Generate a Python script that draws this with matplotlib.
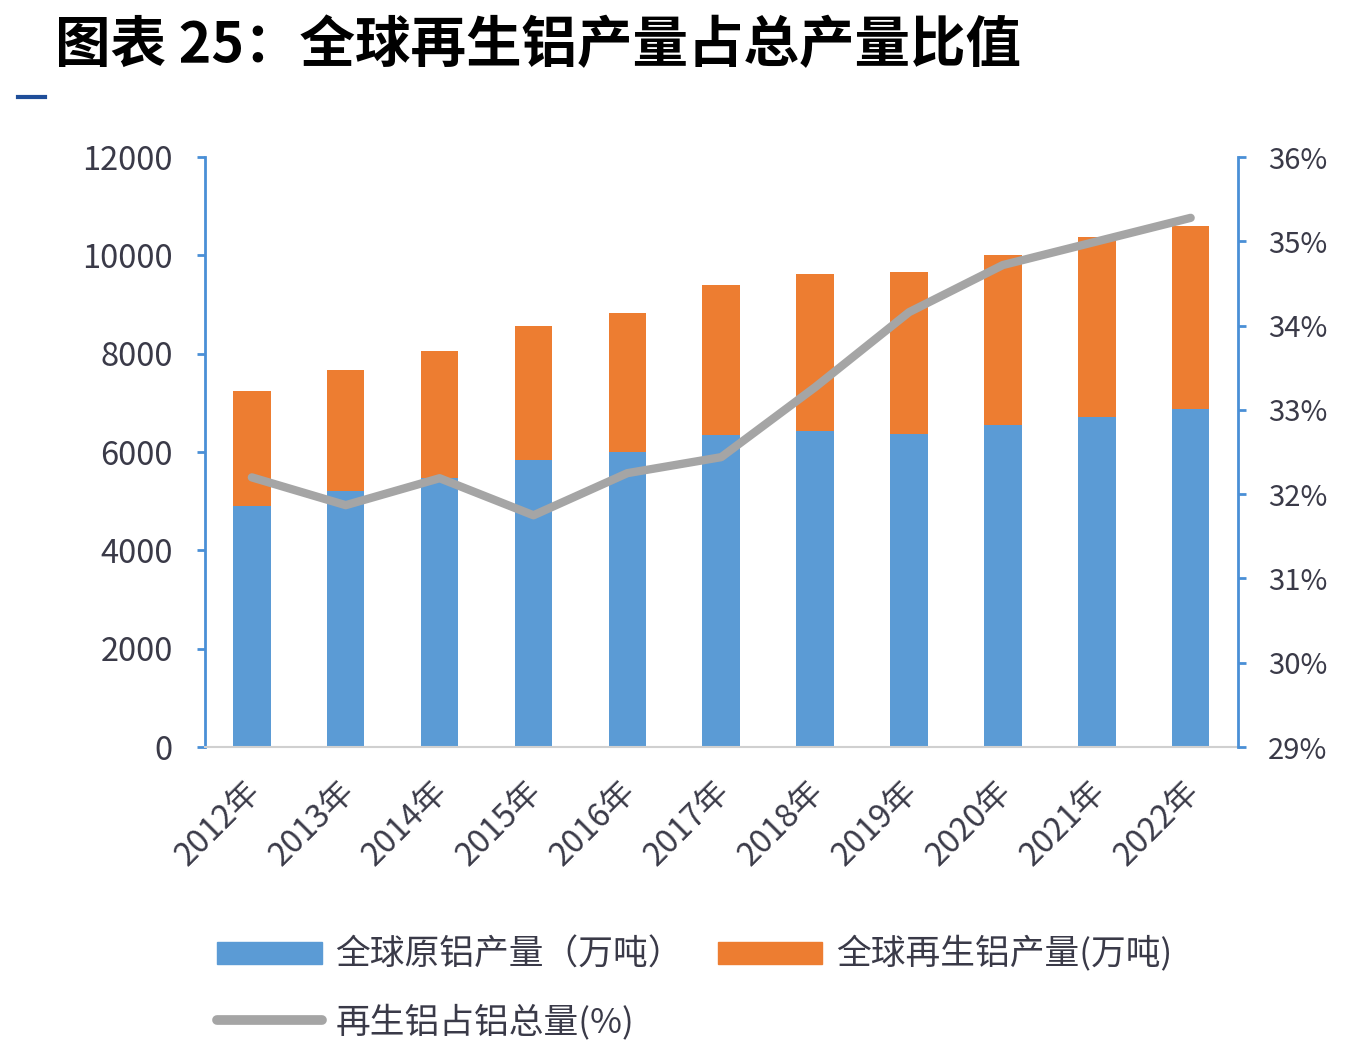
#!/usr/bin/env python3
"""Global secondary aluminium share of total output, 2012-2022."""

import numpy as np
import matplotlib
matplotlib.use("Agg")
import matplotlib.pyplot as plt
import matplotlib.transforms as mtransforms
from matplotlib.lines import Line2D
from matplotlib.patches import Patch
from matplotlib.ticker import FuncFormatter

plt.rcParams["font.family"] = ["Noto Sans CJK SC", "DejaVu Sans"]
plt.rcParams["axes.unicode_minus"] = False

YEARS = ["2012年", "2013年", "2014年", "2015年", "2016年", "2017年",
         "2018年", "2019年", "2020年", "2021年", "2022年"]
PRIMARY = [4900, 5210, 5480, 5840, 6000, 6345, 6430, 6370, 6550, 6710, 6875]
TOTAL = [7240, 7670, 8055, 8560, 8830, 9395, 9620, 9660, 10005, 10370, 10595]
SECONDARY = [t - p for t, p in zip(TOTAL, PRIMARY)]
SHARE = [32.2, 31.87, 32.19, 31.75, 32.25, 32.44, 33.27, 34.16, 34.72, 35.0, 35.28]

BLUE = "#5B9BD5"
ORANGE = "#ED7D31"
GRAY = "#A5A5A5"
SPINE = "#4A8FD6"
TXT = "#3A3A48"

fig = plt.figure(figsize=(13.66, 10.62), dpi=100)
ax = fig.add_axes([0.150, 0.2966, 0.756, 0.5554])
ax2 = ax.twinx()

x = np.arange(len(YEARS))
ax.bar(x, PRIMARY, width=0.4, color=BLUE, zorder=2)
ax.bar(x, SECONDARY, width=0.4, bottom=PRIMARY, color=ORANGE, zorder=2)
ax2.plot(x, SHARE, color=GRAY, lw=6, solid_capstyle="round",
         solid_joinstyle="round", zorder=3)

ax.set_xlim(-0.5, len(YEARS) - 0.5)
ax.set_ylim(0, 12000)
ax.set_yticks(range(0, 12001, 2000))
ax2.set_ylim(29, 36)
ax2.set_yticks(range(29, 37))
ax2.yaxis.set_major_formatter(FuncFormatter(lambda v, _: f"{v:.0f}%"))

ax.spines["top"].set_visible(False)
ax2.spines["top"].set_visible(False)
ax.spines["right"].set_visible(False)
ax2.spines["left"].set_visible(False)
ax2.spines["bottom"].set_visible(False)
ax.spines["left"].set_color(SPINE)
ax.spines["left"].set_linewidth(2)
ax2.spines["right"].set_color(SPINE)
ax2.spines["right"].set_linewidth(2)
ax.spines["bottom"].set_color("#D0D0D0")
ax.spines["bottom"].set_linewidth(1.5)

ax.tick_params(axis="y", direction="out", length=6, width=2, color=SPINE,
               labelsize=23.5, labelcolor=TXT, pad=17)
ax2.tick_params(axis="y", direction="out", length=6, width=2, color=SPINE,
                labelsize=21, labelcolor=TXT, pad=16)
ax.set_xticks(x)
ax.set_xticklabels(YEARS, rotation=45, ha="right", rotation_mode="anchor",
                   fontsize=23.5, color=TXT)
ax.tick_params(axis="x", length=0, pad=20)
shift = mtransforms.ScaledTranslation(-0.08, 0, fig.dpi_scale_trans)
for lab in ax.get_xticklabels():
    lab.set_transform(lab.get_transform() + shift)

fig.text(0.040, 0.957, "图表 25：全球再生铝产量占总产量比值", fontsize=40,
         fontweight="bold", color="black", va="center", ha="left")
fig.add_artist(Line2D([0.013, 0.033], [0.909, 0.909], color="#1F4E99", lw=3))

handles = [Patch(color=BLUE), Line2D([], [], color=GRAY, lw=7, solid_capstyle="round"),
           Patch(color=ORANGE)]
labels = ["全球原铝产量（万吨）", "再生铝占铝总量(%)", "全球再生铝产量(万吨)"]
fig.legend(handles, labels, ncol=2, loc="upper left", bbox_to_anchor=(0.149, 0.131),
           frameon=False, fontsize=25, handlelength=3.0, handleheight=0.6,
           handletextpad=0.4, columnspacing=1.0, labelspacing=0.9,
           labelcolor=TXT, borderaxespad=0)

fig.savefig("out.png", dpi=100)
